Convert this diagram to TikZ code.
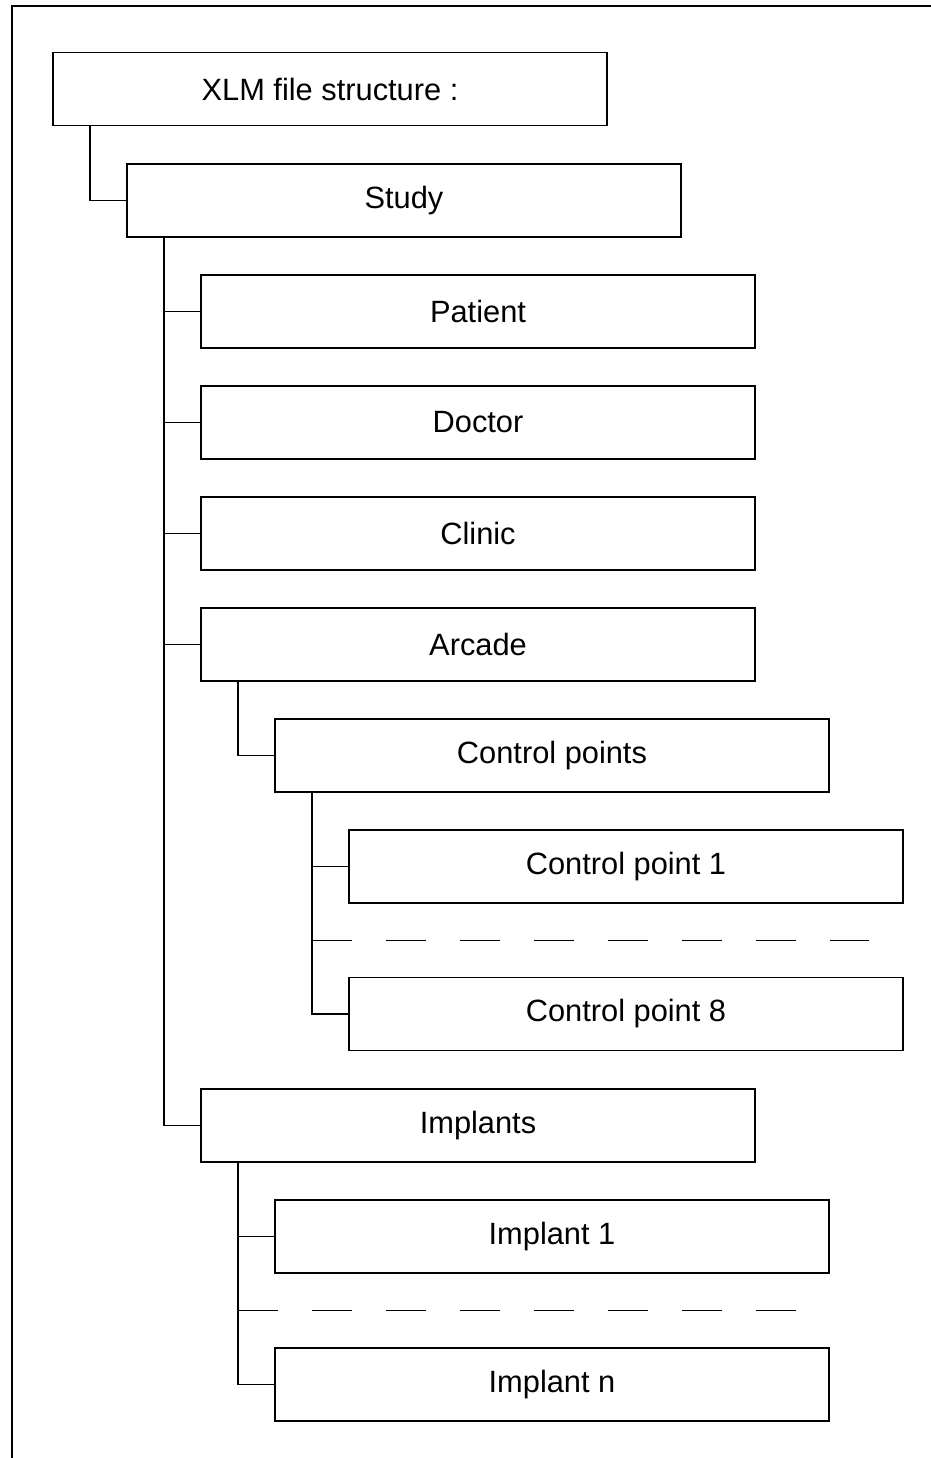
\documentclass[tikz,border=0pt]{standalone}
\usepackage{fontspec}
\setmainfont{Liberation Sans}
\usetikzlibrary{calc}
\begin{document}
\begin{tikzpicture}[x=0.5pt,y=-0.5pt,
  box/.style={draw, line width=0.65pt, anchor=north west, minimum width=277pt, minimum height=36.5pt, inner sep=0pt, outer sep=0pt, font=\fontsize{15.4}{18}\selectfont},
  conn/.style={line width=0.55pt},
  dashconn/.style={line width=0.7pt, dash pattern=on 20pt off 17pt}]
\useasboundingbox (0,0) rectangle (931,1458);
\draw[line width=1.1pt] (931,6) -- (12,6) -- (12,1458);
\node[box] (xlm) at (53,52.5) {XLM file structure :};
\node[box] (study) at (127,164) {Study};
\node[box] (patient) at (201,275) {Patient};
\node[box] (doctor) at (201,386) {Doctor};
\node[box] (clinic) at (201,497) {Clinic};
\node[box] (arcade) at (201,608) {Arcade};
\node[box] (cps) at (275,719) {Control points};
\node[box] (cp1) at (349,830) {Control point 1};
\node[box] (cp8) at (349,977.5) {Control point 8};
\node[box] (implants) at (201,1089) {Implants};
\node[box] (imp1) at (275,1200) {Implant 1};
\node[box] (impn) at (275,1348) {Implant n};
% connectors
\draw[conn] ($(xlm.south west)+(37,0)$) |- (study.west);
\coordinate (t1) at ($(study.south west)+(37,0)$);
\draw[conn] (t1) |- (implants.west);
\draw[conn] (patient.west -| t1) -- (patient.west);
\draw[conn] (doctor.west -| t1) -- (doctor.west);
\draw[conn] (clinic.west -| t1) -- (clinic.west);
\draw[conn] (arcade.west -| t1) -- (arcade.west);
\draw[conn] ($(arcade.south west)+(37,0)$) |- (cps.west);
\coordinate (t2) at ($(cps.south west)+(37,0)$);
\draw[conn] (t2) |- (cp8.west);
\draw[conn] (cp1.west -| t2) -- (cp1.west);
\coordinate (d1) at ($(t2|-cp1.south)!0.5!(t2|-cp8.north)$);
\coordinate (d1e) at ($(d1)+(557,0)$);
\draw[dashconn] (d1) -- (d1e);
\coordinate (t3) at ($(implants.south west)+(37,0)$);
\draw[conn] (t3) |- (impn.west);
\draw[conn] (imp1.west -| t3) -- (imp1.west);
\coordinate (d2) at ($(t3|-imp1.south)!0.5!(t3|-impn.north)$);
\coordinate (d2e) at ($(d2)+(558,0)$);
\draw[dashconn] (d2) -- (d2e);
\end{tikzpicture}
\end{document}
